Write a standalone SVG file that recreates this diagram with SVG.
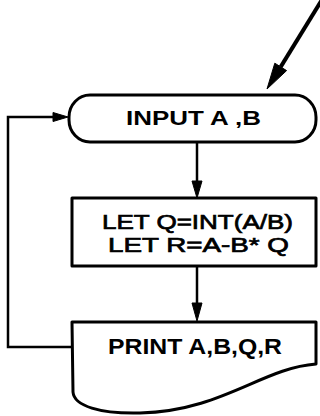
<svg xmlns="http://www.w3.org/2000/svg" width="320" height="416" viewBox="0 0 320 416">
<style>
.shape{fill:#fff;stroke:#000;stroke-width:3;stroke-linejoin:round}
.conn{fill:none;stroke:#000;stroke-width:2.5}
.head{fill:#000;stroke:#000;stroke-width:1;stroke-linejoin:round}
.lbl{font-family:"Liberation Sans",Arial,sans-serif;fill:#000;text-anchor:start}
.b{font-weight:bold}
.m{stroke:#000;stroke-width:0.7}
</style>
<rect width="320" height="416" fill="#fff"/>
<g id="connectors">
  <line class="conn" x1="323" y1="-2" x2="280.7" y2="66.9" style="stroke-width:4"/>
  <polygon class="head" points="267,89 286.6,70.6 274.8,63.2"/>
  <line class="conn" x1="197" y1="143" x2="197" y2="186"/>
  <polygon class="head" points="197,198 192,181 202,181"/>
  <line class="conn" x1="197" y1="267" x2="197" y2="308"/>
  <polygon class="head" points="197,321 192,303 202,303"/>
  <polyline class="conn" points="72,347 8,347 8,117 56,117"/>
  <polygon class="head" points="68,117 53,112.5 53,121.5"/>
</g>
<g id="node-input">
  <rect class="shape" x="69" y="95" width="247" height="47" rx="21" ry="22"/>
  <text class="lbl b" x="126" y="124.5" font-size="20" textLength="135" lengthAdjust="spacingAndGlyphs">INPUT A ,B</text>
</g>
<g id="node-let">
  <rect class="shape" x="72" y="198" width="244" height="68"/>
  <text class="lbl m" x="102" y="228.5" font-size="20.5" textLength="191" lengthAdjust="spacingAndGlyphs">LET Q=INT(A/B)</text>
  <text class="lbl m" x="108" y="251.5" font-size="20.5" textLength="181" lengthAdjust="spacingAndGlyphs">LET R=A-B* Q</text>
</g>
<g id="node-print">
  <path class="shape" d="M72,322 H316 V364 C262,368 222,411 140,413 C100,414 74,406 73,392 Z"/>
  <text class="lbl b" x="108" y="353.5" font-size="21.5" textLength="174" lengthAdjust="spacingAndGlyphs">PRINT A,B,Q,R</text>
</g>
</svg>
